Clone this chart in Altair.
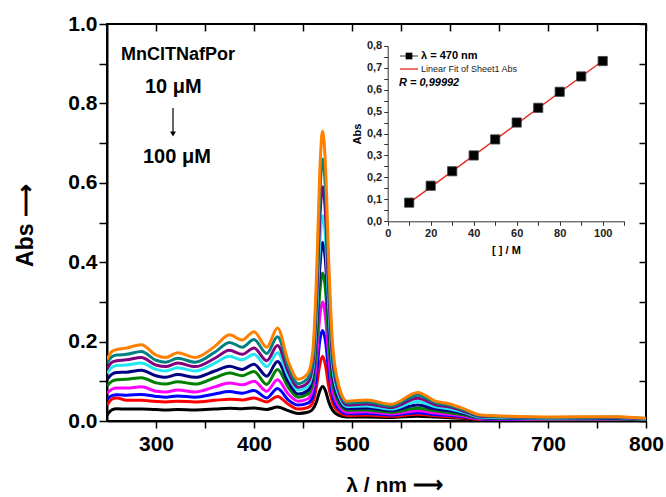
import altair as alt
import pandas as pd

FONT = "Liberation Sans"

# ---------------- main spectra data ----------------
wavelength = [250, 255, 260, 270, 285, 300, 310, 322, 340, 360, 375, 388, 400, 413, 424,
              435, 445, 455, 460, 464, 467, 470, 473, 476, 480, 486, 495, 515, 540, 567,
              585, 600, 615, 630, 660, 700, 770, 800]

c10 = [.015, .028, .031, .030, .030, .029, .028, .029, .028, .030, .032, .031, .033, .029, .035,
       .026, .019, .022, .030, .050, .075, .087, .076, .050, .028, .015, .010, .010, .009, .012,
       .010, .008, .006, .003, .002, .002, .002, .001]
c20 = [.040, .055, .058, .052, .052, .049, .048, .050, .048, .052, .055, .053, .058, .048, .062,
       .042, .030, .034, .047, .090, .140, .163, .140, .090, .048, .024, .014, .015, .012, .017,
       .013, .011, .008, .004, .003, .002, .002, .001]
c30 = [.055, .064, .066, .065, .067, .062, .060, .063, .060, .068, .074, .070, .077, .058, .082,
       .053, .040, .045, .062, .120, .200, .228, .200, .130, .065, .032, .018, .019, .015, .021,
       .016, .014, .010, .005, .004, .003, .003, .002]
c40 = [.070, .080, .083, .083, .086, .075, .073, .078, .073, .086, .096, .091, .100, .075, .104,
       .068, .050, .056, .080, .160, .260, .300, .260, .170, .080, .040, .022, .023, .018, .026,
       .020, .017, .012, .006, .005, .004, .004, .002]
c50 = [.088, .100, .104, .105, .109, .096, .093, .099, .093, .109, .121, .114, .125, .092, .130,
       .085, .060, .068, .097, .200, .320, .373, .330, .210, .100, .050, .027, .028, .022, .032,
       .025, .021, .015, .008, .006, .005, .005, .003]
c60 = [.104, .118, .122, .123, .128, .114, .110, .117, .110, .126, .138, .130, .143, .113, .150,
       .098, .068, .077, .112, .240, .380, .450, .400, .260, .120, .058, .031, .033, .026, .040,
       .030, .026, .018, .009, .007, .006, .006, .004]
c70 = [.120, .135, .140, .141, .146, .130, .126, .134, .126, .146, .163, .154, .168, .137, .172,
       .112, .078, .088, .128, .270, .440, .517, .460, .300, .140, .068, .036, .038, .030, .049,
       .036, .030, .021, .010, .008, .007, .008, .004]
c80 = [.132, .148, .152, .154, .160, .141, .137, .146, .137, .158, .178, .168, .184, .152, .190,
       .123, .085, .097, .142, .310, .500, .590, .520, .340, .160, .077, .040, .043, .034, .057,
       .041, .035, .024, .012, .010, .008, .009, .005]
c90 = [.145, .162, .166, .168, .175, .153, .148, .158, .148, .173, .198, .186, .205, .170, .212,
       .137, .094, .108, .158, .345, .560, .660, .580, .380, .180, .086, .045, .048, .038, .065,
       .046, .039, .027, .014, .011, .009, .010, .006]
c100 = [.155, .175, .180, .184, .192, .166, .160, .172, .160, .188, .217, .204, .225, .186, .234,
        .150, .105, .120, .175, .380, .620, .730, .640, .420, .200, .095, .050, .053, .042, .072,
        .050, .043, .030, .016, .012, .010, .011, .007]

concentrations = [10, 20, 30, 40, 50, 60, 70, 80, 90, 100]
curve_colors = ["#000000", "#ff0000", "#0000ff", "#ff00ff", "#008000",
                "#000080", "#22e6f2", "#800080", "#008080", "#ff8000"]

# ---------------- inset data ----------------
inset_conc = [10, 20, 30, 40, 50, 60, 70, 80, 90, 100]
inset_abs = [0.085, 0.162, 0.228, 0.300, 0.373, 0.450, 0.517, 0.590, 0.660, 0.730]
fit_conc = [10, 100]
fit_abs = [0.084, 0.731]

# ---------------- tables ----------------
rows = []
for c, ys in zip(concentrations, [c10, c20, c30, c40, c50, c60, c70, c80, c90, c100]):
    for w, a in zip(wavelength, ys):
        rows.append({"wl": w, "abs": a, "conc": c})
spec_df = pd.DataFrame(rows)
inset_df = pd.DataFrame({"c": inset_conc, "a": inset_abs})
fit_df = pd.DataFrame({"c": fit_conc, "a": fit_abs})

W, H = 539, 397
x_ticks = list(range(300, 801, 50))
y_ticks = [round(i * 0.1, 1) for i in range(11)]

xs_main = alt.Scale(domain=[250, 800], nice=False, zero=False)
ys_main = alt.Scale(domain=[0, 1], nice=False)

spectra = alt.Chart(spec_df).mark_line(strokeWidth=3, interpolate="monotone", clip=True).encode(
    x=alt.X("wl:Q", scale=xs_main,
            axis=alt.Axis(values=x_ticks,
                          labelExpr="datum.value % 100 == 0 ? datum.label : ''",
                          title="λ / nm ⟶", titleFont=FONT, titleFontSize=21, titleFontWeight="bold",
                          titleX=287, titleY=70, titleBaseline="alphabetic", titleAlign="center",
                          labelFont=FONT, labelFontSize=21, labelFontWeight="bold", labelColor="black",
                          labelPadding=5, tickSize=7, tickWidth=1.5, tickColor="black",
                          domainColor="black", domainWidth=2, grid=False, labelFlush=False)),
    y=alt.Y("abs:Q", scale=ys_main,
            axis=alt.Axis(values=y_ticks, format=".1f",
                          labelExpr="round(datum.value * 10) % 2 == 0 ? datum.label : ''",
                          title="Abs ⟶", titleFont=FONT, titleFontSize=23, titleFontWeight="bold",
                          titleAngle=270, titleX=-75, titleY=201, titleBaseline="alphabetic",
                          titleAlign="center",
                          labelFont=FONT, labelFontSize=21, labelFontWeight="bold", labelColor="black",
                          labelPadding=2, tickSize=8, tickWidth=1.5, tickColor="black",
                          domainColor="black", domainWidth=2, grid=False, labelFlush=False)),
    color=alt.Color("conc:O", scale=alt.Scale(domain=concentrations, range=curve_colors), legend=None),
    order=alt.Order("conc:Q", sort="ascending"),
)

frame_ticks = alt.Chart(spec_df).mark_point(opacity=0).encode(
    x=alt.X("wl:Q", scale=xs_main,
            axis=alt.Axis(orient="top", offset=-7, values=x_ticks, labels=False, domain=False,
                          tickSize=7, tickWidth=1.5, tickColor="black", title=None, grid=False)),
    y=alt.Y("abs:Q", scale=ys_main,
            axis=alt.Axis(orient="right", offset=-7, values=y_ticks, labels=False, domain=False,
                          tickSize=7, tickWidth=1.5, tickColor="black", title=None, grid=False)),
)

# ---------------- inset ----------------
ix = alt.Scale(domain=[0, 110], range=[280.7, 517.2], nice=False, zero=False)
iy = alt.Scale(domain=[0, 0.8], range=[197.3, 21.7], nice=False, zero=False)

inset_x_axis = alt.Axis(orient="bottom", offset=-199.7, values=list(range(0, 111, 10)),
                        labelExpr="datum.value % 20 == 0 && datum.value <= 100 ? datum.label : ''",
                        title="[ ] / M", titleFont=FONT, titleFontSize=11, titleFontWeight="bold",
                        titlePadding=6, labelFont=FONT, labelFontSize=11, labelFontWeight="bold",
                        labelColor="#222", labelPadding=2, tickSize=4, tickColor="#333",
                        domainColor="#333", domainWidth=1, grid=False, labelFlush=False)
inset_y_axis = alt.Axis(orient="left", offset=-280.7, values=[round(i * 0.05, 2) for i in range(17)],
                        labelExpr="round(datum.value * 100) % 10 == 0 ? replace(format(datum.value, '.1f'), '.', ',') : ''",
                        title="Abs", titleFont=FONT, titleFontSize=11, titleFontWeight="bold",
                        titlePadding=4, labelFont=FONT, labelFontSize=11, labelFontWeight="bold",
                        labelColor="#222", labelPadding=2, tickSize=4, tickColor="#333",
                        domainColor="#333", domainWidth=1, grid=False, labelFlush=False)

inset_line = alt.Chart(fit_df).mark_line(color="#e8261e", strokeWidth=1.3).encode(
    x=alt.X("c:Q", scale=ix, axis=inset_x_axis),
    y=alt.Y("a:Q", scale=iy, axis=inset_y_axis),
)
inset_pts = alt.Chart(inset_df).mark_point(shape="square", filled=True, color="black",
                                            size=85, stroke="#444", strokeWidth=0.8, opacity=1).encode(
    x=alt.X("c:Q", scale=ix, axis=None),
    y=alt.Y("a:Q", scale=iy, axis=None),
)

# ---------------- annotations (pixel positions within the plot area) ----------------
def label(text, x, y, size, weight="bold", style="normal", color="black", align="left"):
    return alt.Chart(pd.DataFrame({"t": [text]})).mark_text(
        font=FONT, fontSize=size, fontWeight=weight, fontStyle=style, color=color,
        align=align, baseline="middle"
    ).encode(text="t:N", x=alt.value(x), y=alt.value(y))

ann_df = pd.DataFrame({"k": [0]})
arrow_shaft = alt.Chart(ann_df).mark_rule(color="black", strokeWidth=1.2).encode(
    x=alt.value(66), y=alt.value(84), y2=alt.value(108))
arrow_head = alt.Chart(ann_df).mark_point(shape="triangle-down", filled=True, color="black",
                                          size=35, opacity=1).encode(x=alt.value(66), y=alt.value(110))

leg_line1 = alt.Chart(ann_df).mark_rule(color="#333", strokeWidth=1).encode(
    x=alt.value(293), x2=alt.value(311), y=alt.value(32))
leg_sq = alt.Chart(ann_df).mark_point(shape="square", filled=True, color="black", size=45,
                                      opacity=1).encode(x=alt.value(302), y=alt.value(32))
leg_line2 = alt.Chart(ann_df).mark_rule(color="#e8261e", strokeWidth=1.3).encode(
    x=alt.value(293), x2=alt.value(311), y=alt.value(45))

chart = alt.layer(
    spectra,
    frame_ticks,
    inset_line,
    inset_pts,
    label("MnClTNafPor", 14, 31, 18),
    label("10 μM", 38, 63, 20),
    label("100 μM", 36, 133, 20),
    arrow_shaft,
    arrow_head,
    leg_line1,
    leg_sq,
    leg_line2,
    label("λ = 470 nm", 314, 32, 11),
    label("Linear Fit of Sheet1 Abs", 314, 45, 9, weight="normal", color="#222"),
    label("R = 0,99992", 292, 59, 11, style="italic"),
).resolve_scale(
    x="independent", y="independent"
).properties(
    width=W, height=H, autosize="none",
    padding={"left": 107, "top": 24, "right": 20, "bottom": 76},
    background="white",
).configure_view(
    stroke="black", strokeWidth=2
)

chart.save("out.html", embed_options={"renderer": "svg", "actions": False})
